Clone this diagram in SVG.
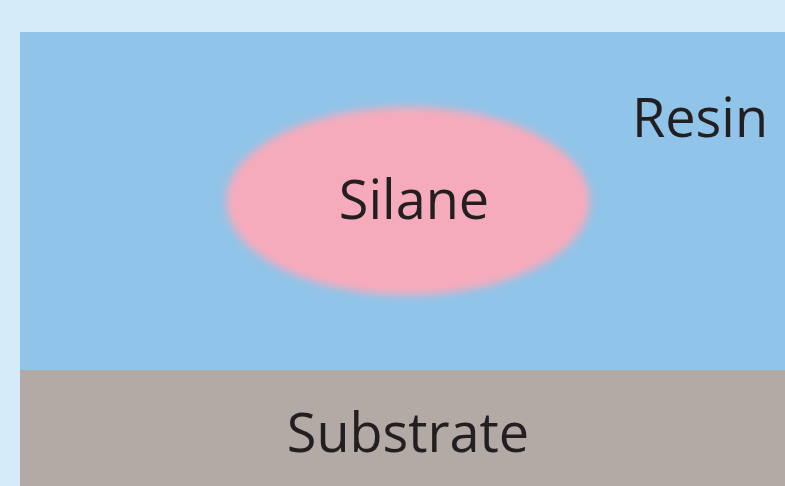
<svg xmlns="http://www.w3.org/2000/svg" width="785" height="486" viewBox="0 0 785 486">
  <defs>
    <filter id="soft" x="-20%" y="-30%" width="140%" height="160%">
      <feGaussianBlur stdDeviation="4"/>
    </filter>
  </defs>
  <style>
    .label { font-family: "Open Sans", "Noto Sans", sans-serif; fill: #231f20; font-size: 54px; }
  </style>
  <rect x="0" y="0" width="785" height="486" fill="#d6ebf9"/>
  <g id="resin">
    <rect x="20" y="32" width="765" height="338" fill="#90c4e8"/>
    <text class="label" x="700" y="137" text-anchor="middle">Resin</text>
  </g>
  <g id="substrate">
    <rect x="20" y="370" width="765" height="116" fill="#b3a9a5"/>
    <text class="label" x="408" y="452" text-anchor="middle">Substrate</text>
  </g>
  <g id="silane">
    <ellipse cx="408" cy="201" rx="182" ry="94" fill="#f6abbc" filter="url(#soft)"/>
    <text class="label" x="414" y="219" text-anchor="middle">Silane</text>
  </g>
</svg>
